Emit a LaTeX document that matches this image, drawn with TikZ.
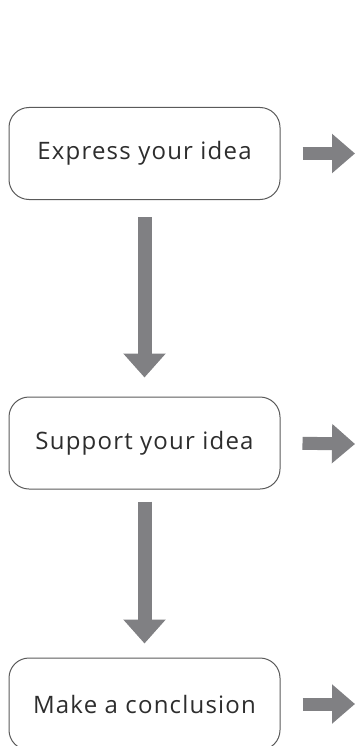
\documentclass[tikz,border=0pt]{standalone}
\usepackage{fontspec}
\setmainfont{Open Sans}[LetterSpace=5]
\usetikzlibrary{arrows.meta}
\definecolor{arrowgray}{RGB}{128,128,131}
\definecolor{boxline}{RGB}{90,90,90}
\definecolor{txt}{RGB}{45,45,45}
\begin{document}
\begin{tikzpicture}[x=1pt,y=-1pt,
  stepbox/.style={draw=boxline,line width=1pt,rounded corners=20pt,minimum width=271pt,minimum height=92pt,inner sep=0pt,text=txt,font=\fontsize{24}{28}\selectfont},
  downarrow/.style={draw=arrowgray,line width=14pt,-{Triangle[width=41pt,length=24pt]}},
  rightarrow/.style={draw=arrowgray,line width=13pt,-{Triangle[width=38pt,length=23pt]}}]
\useasboundingbox (0,0) rectangle (357,746);
\node[stepbox] (b1) at (144.5,153.5) {Express your idea};
\node[stepbox] (b2) at (144.5,443) {Support your idea};
\node[stepbox] (b3) at (144.5,704) {Make a conclusion};
\coordinate (e1) at (355,153.5);
\coordinate (e2) at (355,444);
\coordinate (e3) at (355,704);
\draw[downarrow,shorten <=17pt,shorten >=19pt] (b1.south) -- (b2.north);
\draw[downarrow,shorten <=12pt,shorten >=14pt] (b2.south) -- (b3.north);
\draw[rightarrow,shorten <=22pt] (b1.east) -- (e1);
\draw[rightarrow,shorten <=22pt] (b2.east) -- (e2);
\draw[rightarrow,shorten <=22pt] (b3.east) -- (e3);
\end{tikzpicture}
\end{document}
